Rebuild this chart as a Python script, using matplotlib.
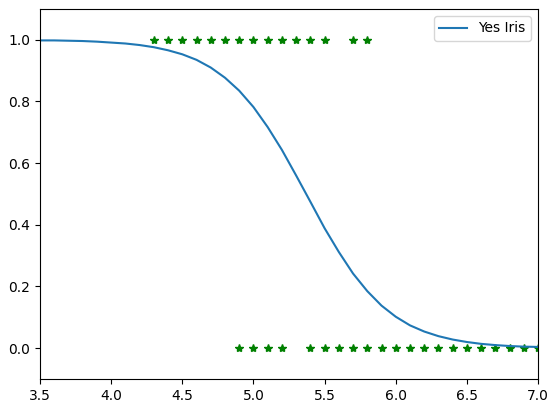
import numpy as np
import matplotlib
matplotlib.use('Agg')
import matplotlib.pyplot as plt

# probability curve
curve_x = [3.5, 3.6, 3.7, 3.8, 3.9, 4.0, 4.1, 4.2, 4.3, 4.4, 4.5, 4.6,
           4.7, 4.8, 4.9, 5.0, 5.1, 5.2, 5.3, 5.4, 5.5, 5.6, 5.7, 5.8,
           5.9, 6.0, 6.1, 6.2, 6.3, 6.4, 6.5, 6.6, 6.7, 6.8, 6.9, 7.0]
curve_y = [0.998, 0.998, 0.997, 0.996, 0.994, 0.991, 0.988, 0.983, 0.976,
           0.966, 0.953, 0.935, 0.910, 0.877, 0.835, 0.782, 0.717, 0.643,
           0.560, 0.475, 0.389, 0.312, 0.242, 0.185, 0.138, 0.102, 0.074,
           0.054, 0.039, 0.028, 0.020, 0.014, 0.010, 0.007, 0.005, 0.004]

# sample points
yes_x = [4.3, 4.4, 4.5, 4.6, 4.7, 4.8, 4.9, 5.0, 5.1, 5.2, 5.3, 5.4, 5.5,
         5.7, 5.8]
no_x = [4.9, 5.0, 5.1, 5.2, 5.4, 5.5, 5.6, 5.7, 5.8, 5.9, 6.0, 6.1, 6.2,
        6.3, 6.4, 6.5, 6.6, 6.7, 6.8, 6.9, 7.0, 7.1, 7.2]

fig = plt.figure(figsize=(5.58, 4.13), dpi=100)
ax = fig.add_axes([0.0717, 0.0823, 0.8925, 0.896])

ax.plot(yes_x, np.ones(len(yes_x)), 'g*')
ax.plot(no_x, np.zeros(len(no_x)), 'g*')
ax.plot(curve_x, curve_y, label='Yes Iris')

ax.set_xlim(3.5, 7.0)
ax.set_ylim(-0.1, 1.1)
ax.legend(loc='upper right')

fig.savefig('out.png', dpi=100)
